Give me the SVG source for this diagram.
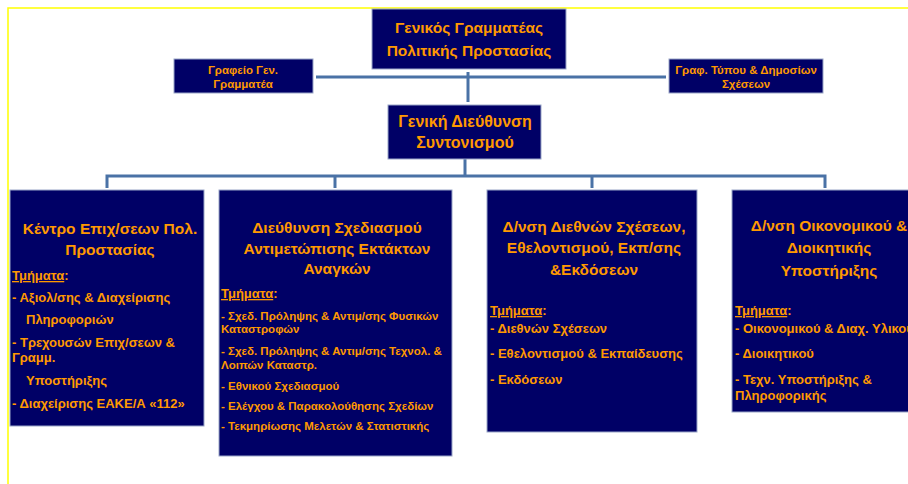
<svg xmlns="http://www.w3.org/2000/svg" width="908" height="484" viewBox="0 0 908 484">
<style>
.box{fill:#000066;stroke:#9aa6c8;stroke-width:1}
.t{font-family:"Liberation Sans","DejaVu Sans",sans-serif;font-weight:bold;fill:#FF9900}
.c{text-anchor:middle}
.h1{font-size:15.5px}
.h0{font-size:16px}
.h2{font-size:11.5px}
.h3{font-size:15.5px}
.l{font-size:13px}
.s{font-size:11.5px}
.u{text-decoration:underline}
.conn{stroke:#4a72a6;stroke-width:3;fill:none}
</style>
<rect width="908" height="484" fill="#ffffff"/>
<path d="M8,484 V8 H908" fill="none" stroke="#ffff00" stroke-width="1.5"/>
<g id="connectors">
<path class="conn" d="M316,77 H666"/>
<path class="conn" d="M468,72 V102"/>
<path class="conn" d="M465,158 V176"/>
<path class="conn" d="M107,188 V176 H825 V188"/>
<path class="conn" d="M335,176 V188"/>
<path class="conn" d="M592,176 V188"/>
</g>
<g id="gen-grammateas">
<rect class="box" x="372" y="9" width="194" height="60"/>
<text class="t c h1" x="469" y="33">Γενικός Γραμματέας</text>
<text class="t c h1" x="469" y="56">Πολιτικής Προστασίας</text>
</g>
<g id="grafeio">
<rect class="box" x="174" y="59" width="139" height="34"/>
<text class="t c h2" x="243" y="74">Γραφείο Γεν.</text>
<text class="t c h2" x="243" y="88">Γραμματέα</text>
</g>
<g id="grafeio-typou">
<rect class="box" x="669" y="59" width="154" height="34"/>
<text class="t c h2" x="746" y="74">Γραφ. Τύπου &amp; Δημοσίων</text>
<text class="t c h2" x="746" y="88">Σχέσεων</text>
</g>
<g id="gen-dieythynsi">
<rect class="box" x="388" y="105" width="153" height="54"/>
<text class="t c h0" x="465" y="127">Γενική Διεύθυνση</text>
<text class="t c h0" x="465" y="148">Συντονισμού</text>
</g>
<g id="kentro">
<rect class="box" x="10" y="190" width="194" height="236"/>
<text class="t c h3" x="110" y="234">Κέντρο Επιχ/σεων Πολ.</text>
<text class="t c h3" x="110" y="255">Προστασίας</text>
<text class="t l" x="12" y="280"><tspan class="u">Τμήματα</tspan>:</text>
<text class="t l" x="12" y="302">-  Αξιολ/σης &amp; Διαχείρισης</text>
<text class="t l" x="26" y="324">Πληροφοριών</text>
<text class="t l" x="12" y="347">- Τρεχουσών Επιχ/σεων &amp;</text>
<text class="t l" x="12" y="362">Γραμμ.</text>
<text class="t l" x="26" y="385">Υποστήριξης</text>
<text class="t l" x="12" y="408">-  Διαχείρισης ΕΑΚΕ/Α «112»</text>
</g>
<g id="sxediasmos">
<rect class="box" x="219" y="190" width="233" height="266"/>
<text class="t c h3" x="337" y="233">Διεύθυνση Σχεδιασμού</text>
<text class="t c h3" x="337" y="254">Αντιμετώπισης Εκτάκτων</text>
<text class="t c h3" x="337" y="274">Αναγκών</text>
<text class="t l" x="221" y="298"><tspan class="u">Τμήματα</tspan>:</text>
<text class="t s" x="221" y="320">- Σχεδ. Πρόληψης &amp; Αντιμ/σης Φυσικών</text>
<text class="t s" x="221" y="333">Καταστροφών</text>
<text class="t s" x="221" y="355">- Σχεδ. Πρόληψης &amp; Αντιμ/σης Τεχνολ. &amp;</text>
<text class="t s" x="221" y="369">Λοιπών Καταστρ.</text>
<text class="t s" x="221" y="390">- Εθνικού Σχεδιασμού</text>
<text class="t s" x="221" y="410">- Ελέγχου &amp; Παρακολούθησης  Σχεδίων</text>
<text class="t s" x="221" y="430">- Τεκμηρίωσης Μελετών &amp;  Στατιστικής</text>
</g>
<g id="diethnon">
<rect class="box" x="487" y="190" width="210" height="242"/>
<text class="t c h3" x="594" y="232">Δ/νση Διεθνών Σχέσεων,</text>
<text class="t c h3" x="594" y="253">Εθελοντισμού, Εκπ/σης</text>
<text class="t c h3" x="594" y="275">&amp;Εκδόσεων</text>
<text class="t l" x="490" y="315"><tspan class="u">Τμήματα</tspan>:</text>
<text class="t l" x="490" y="333">- Διεθνών Σχέσεων</text>
<text class="t l" x="490" y="358">- Εθελοντισμού &amp; Εκπαίδευσης</text>
<text class="t l" x="490" y="384">- Εκδόσεων</text>
</g>
<g id="oikonomikou">
<rect class="box" x="732" y="190" width="186" height="222"/>
<text class="t c h3" x="829" y="231">Δ/νση Οικονομικού &amp;</text>
<text class="t c h3" x="829" y="253">Διοικητικής</text>
<text class="t c h3" x="829" y="276">Υποστήριξης</text>
<text class="t l" x="735" y="315"><tspan class="u">Τμήματα</tspan>:</text>
<text class="t l" x="735" y="333">- Οικονομικού &amp; Διαχ. Υλικού</text>
<text class="t l" x="735" y="358">- Διοικητικού</text>
<text class="t l" x="735" y="384">- Τεχν. Υποστήριξης &amp;</text>
<text class="t l" x="735" y="400">Πληροφορικής</text>
</g>
</svg>
